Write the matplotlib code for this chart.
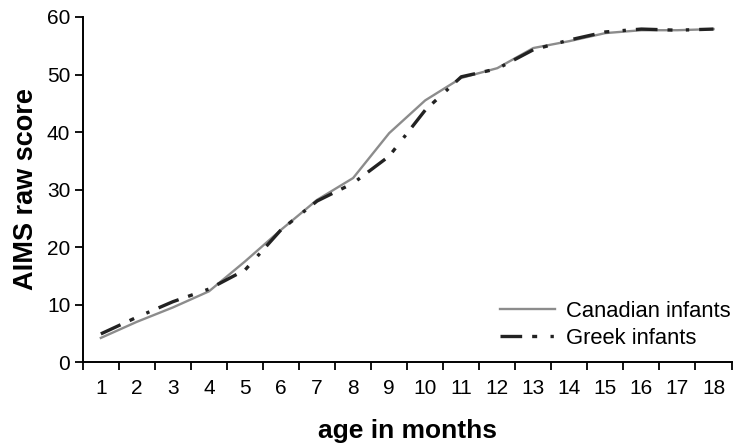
import matplotlib.pyplot as plt
import numpy as np

plt.rcParams['font.family'] = ['Liberation Sans', 'DejaVu Sans']

# data
months = list(range(1, 19))
canadian = [4.2, 7.0, 9.5, 12.3, 17.5, 23.0, 28.2, 32.0, 39.8, 45.5, 49.4, 51.1, 54.6, 55.8, 57.2, 57.7, 57.7, 57.9]
greek = [4.9, 7.8, 10.5, 12.7, 16.0, 23.0, 28.0, 31.1, 35.8, 43.8, 49.6, 51.0, 54.3, 56.0, 57.4, 57.9, 57.7, 57.9]
y_ticks = [0, 10, 20, 30, 40, 50, 60]

fig = plt.figure(figsize=(7.33, 4.47), dpi=100)
ax = fig.add_axes([0.113, 0.19, 0.885, 0.772])

ax.plot(months, canadian, color='#8c8c8c', lw=1.7, label='Canadian infants')
ax.plot(months, greek, color='#222222', lw=2.4, dashes=(6.5, 3, 1.5, 4, 1, 3),
        label='Greek infants')

ax.set_xlim(0.5, 18.5)
ax.set_ylim(0, 60)
ax.set_yticks(y_ticks)
ax.set_xticks(months)
ax.set_xticks(np.arange(0.5, 19, 1), minor=True)
ax.tick_params(axis='x', which='major', length=0, labelsize=15, pad=12)
ax.tick_params(axis='x', which='minor', length=6, width=1.3, direction='out')
ax.tick_params(axis='y', length=6, width=1.3, labelsize=15, pad=3)

for s in ['top', 'right']:
    ax.spines[s].set_visible(False)
for s in ['left', 'bottom']:
    ax.spines[s].set_linewidth(1.4)

ax.set_ylabel('AIMS raw score', fontsize=19.5, fontweight='bold', labelpad=6)
ax.set_xlabel('age in months', fontsize=19, fontweight='bold', labelpad=15)

ax.legend(loc='lower right', frameon=False, fontsize=15.8, handlelength=2.5,
          handletextpad=0.5, borderaxespad=0, labelspacing=0.3,
          bbox_to_anchor=(1.012, 0.012))

fig.savefig('out.png', dpi=100)
